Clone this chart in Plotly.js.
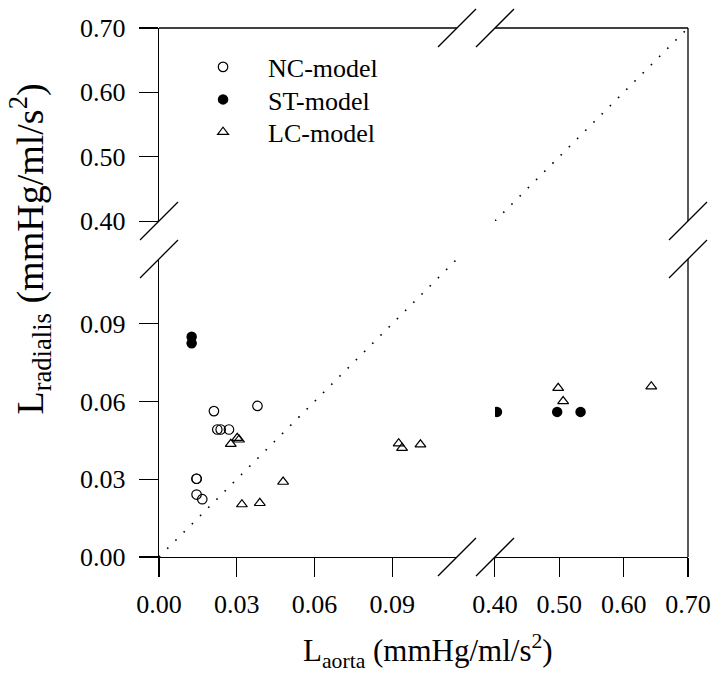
<!DOCTYPE html>
<html>
<head>
<meta charset="utf-8">
<script src="https://cdn.plot.ly/plotly-3.0.1.min.js"></script>
<style>
  html, body { margin: 0; padding: 0; background: #fff; }
  #chart { width: 712px; height: 687px; }
</style>
</head>
<body>
<div id="chart"></div>
<script>
// NC-model (all on the low-value segments)
const ncAorta    = [0.0212, 0.0380, 0.0225, 0.0238, 0.0270, 0.0145, 0.0145, 0.0145, 0.0167];
const ncRadialis = [0.0563, 0.0583, 0.0492, 0.0492, 0.0492, 0.0302, 0.0302, 0.0241, 0.0223];

// ST-model: low aorta values, and high aorta values (right-hand x segment)
const stAortaLow     = [0.0126, 0.0126];
const stRadialisLow  = [0.0850, 0.0825];
const stAortaHigh    = [0.403, 0.4966, 0.533];
const stRadialisHigh = [0.0560, 0.0560, 0.0560];

// LC-model
const lcAortaLow     = [0.0277, 0.0302, 0.0309, 0.0479, 0.0320, 0.0389, 0.0925, 0.0938, 0.1009];
const lcRadialisLow  = [0.0436, 0.0459, 0.0453, 0.0290, 0.0203, 0.0208, 0.0438, 0.0421, 0.0434];
const lcAortaHigh    = [0.4982, 0.5059, 0.6429];
const lcRadialisHigh = [0.0652, 0.0601, 0.0658];

// identity line pieces (y = x) on the low and high segments
const identityLow  = [0, 0.115];
const identityHigh = [0.40, 0.70];

// axis segments
const lowRange  = [0, 0.115];
const highRange = [0.40, 0.70];
const lowTicks  = [0, 0.03, 0.06, 0.09];
const lowLabels = ['0.00', '0.03', '0.06', '0.09'];
const highTicks  = [0.40, 0.50, 0.60, 0.70];
const highLabels = ['0.40', '0.50', '0.60', '0.70'];

const FONT = 'Liberation Serif, Times New Roman, serif';
const lowDomain  = [0, 0.5633];
const highDomain = [0.6352, 1];

const openCircle   = { symbol: 'circle-open', size: 9.5, color: '#000', line: { width: 1.2, color: '#000' } };
const filledCircle = { symbol: 'circle', size: 10.5, color: '#000' };
const openTriangle = { symbol: 'triangle-up-open', size: 9.5, color: '#000', line: { width: 1.2, color: '#000' } };
const identityLine = { color: '#000', width: 1.6, dash: '1.6px,10px' };

const traces = [
  { x: identityLow, y: identityLow, xaxis: 'x', yaxis: 'y', mode: 'lines',
    line: identityLine, showlegend: false, hoverinfo: 'skip' },
  { x: identityHigh, y: identityHigh, xaxis: 'x2', yaxis: 'y2', mode: 'lines',
    line: identityLine, showlegend: false, hoverinfo: 'skip' },
  { x: ncAorta, y: ncRadialis, xaxis: 'x', yaxis: 'y', mode: 'markers', name: 'NC-model',
    marker: openCircle, legend: 'legend' },
  { x: stAortaLow, y: stRadialisLow, xaxis: 'x', yaxis: 'y', mode: 'markers', name: 'ST-model',
    marker: filledCircle, legend: 'legend2' },
  { x: stAortaHigh, y: stRadialisHigh, xaxis: 'x2', yaxis: 'y', mode: 'markers', name: 'ST-model',
    marker: filledCircle, showlegend: false },
  { x: lcAortaLow, y: lcRadialisLow, xaxis: 'x', yaxis: 'y', mode: 'markers', name: 'LC-model',
    marker: openTriangle, legend: 'legend3' },
  { x: lcAortaHigh, y: lcRadialisHigh, xaxis: 'x2', yaxis: 'y', mode: 'markers', name: 'LC-model',
    marker: openTriangle, showlegend: false }
];

const tickFont = { family: FONT, size: 26, color: '#000' };
const baseAxis = {
  showgrid: false, zeroline: false, showline: true, linecolor: '#000', linewidth: 1.3,
  ticks: 'outside', ticklen: 19, tickwidth: 1.3, tickcolor: '#000',
  tickfont: tickFont, tickmode: 'array', fixedrange: true
};

// break marks: two short slashes straddling each gap, sized in pixels
function slash(xPaper, yPaper) {
  return {
    type: 'line', xref: 'paper', yref: 'paper',
    xsizemode: 'pixel', ysizemode: 'pixel', xanchor: xPaper, yanchor: yPaper,
    x0: -19, x1: 19, y0: -19, y1: 19,
    line: { color: '#000', width: 1.3 }, layer: 'above'
  };
}
function frame(x0, y0, x1, y1) {
  return { type: 'line', xref: 'paper', yref: 'paper', x0, y0, x1, y1,
           line: { color: '#000', width: 1.3 }, layer: 'above' };
}

const shapes = [
  // the 0.40 ends of the high segments sit inside the break: no tick mark there
  { type: 'line', xref: 'x2', yref: 'paper', x0: 0.40, x1: 0.40,
    ysizemode: 'pixel', yanchor: 0, y0: -1.2, y1: -22, line: { color: '#fff', width: 3 }, layer: 'above' },
  { type: 'line', xref: 'paper', yref: 'y2', y0: 0.40, y1: 0.40,
    xsizemode: 'pixel', xanchor: 0, x0: -1.2, x1: -22, line: { color: '#fff', width: 3 }, layer: 'above' },
  // top and right edges of the box, broken like the axes
  frame(0, 1, lowDomain[1], 1), frame(highDomain[0], 1, 1, 1),
  frame(1, 0, 1, lowDomain[1]), frame(1, highDomain[0], 1, 1),
  // break slashes on all four sides
  slash(lowDomain[1], 0), slash(highDomain[0], 0),
  slash(lowDomain[1], 1), slash(highDomain[0], 1),
  slash(0, lowDomain[1]), slash(0, highDomain[0]),
  slash(1, lowDomain[1]), slash(1, highDomain[0])
];

const legendFont = { family: FONT, size: 26, color: '#000' };
function legendAt(yTop) {
  return { x: 0.036, y: yTop, xanchor: 'left', yanchor: 'top', font: legendFont,
           itemwidth: 80, bgcolor: 'rgba(0,0,0,0)', borderwidth: 0, tracegroupgap: 0 };
}

const layout = {
  width: 712, height: 687,
  margin: { l: 159, r: 24, t: 28, b: 130 },
  paper_bgcolor: '#fff', plot_bgcolor: '#fff',
  font: { family: FONT, color: '#000' },
  showlegend: true,
  legend: legendAt(0.9707),
  legend2: legendAt(0.9093),
  legend3: legendAt(0.8478),
  xaxis: Object.assign({}, baseAxis, {
    domain: lowDomain, range: lowRange, anchor: 'y',
    tickvals: lowTicks, ticktext: lowLabels, ticklabelstandoff: 4
  }),
  xaxis2: Object.assign({}, baseAxis, {
    domain: highDomain, range: highRange, anchor: 'y',
    tickvals: highTicks, ticktext: highLabels, ticklabelstandoff: 4
  }),
  yaxis: Object.assign({}, baseAxis, {
    domain: lowDomain, range: lowRange, anchor: 'x',
    tickvals: lowTicks, ticktext: lowLabels, ticklabelstandoff: 8
  }),
  yaxis2: Object.assign({}, baseAxis, {
    domain: highDomain, range: highRange, anchor: 'x',
    tickvals: highTicks, ticktext: highLabels, ticklabelstandoff: 8
  }),
  shapes: shapes,
  annotations: [
    { text: 'L<sub>aorta</sub> (mmHg/ml/s<sup>2</sup>)', xref: 'paper', yref: 'paper',
      x: 0.5085, y: -0.178, xanchor: 'center', yanchor: 'middle', showarrow: false,
      font: { family: FONT, size: 31, color: '#000' } },
    { text: 'L<sub>radialis</sub> (mmHg/ml/s<sup>2</sup>)', xref: 'paper', yref: 'paper',
      x: -0.243, y: 0.582, xanchor: 'center', yanchor: 'middle', showarrow: false, textangle: -90,
      font: { family: FONT, size: 38, color: '#000' } }
  ]
};

Plotly.newPlot('chart', traces, layout, { displayModeBar: false, staticPlot: true });
</script>
</body>
</html>
